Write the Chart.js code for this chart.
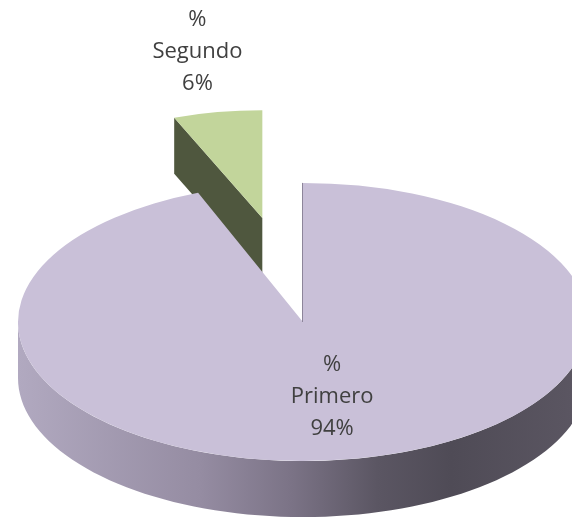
<!DOCTYPE html>
<html>
<head>
<meta charset="utf-8">
<style>
  body { margin: 0; background: #fff; }
  #wrap { width: 572px; height: 523px; }
</style>
</head>
<body>
<script src="https://cdn.jsdelivr.net/npm/chart.js"></script>
<div id="wrap"><canvas id="pie"></canvas></div>

<script>
const categories = ['Primero', 'Segundo'];
const shares = [94, 6];
const labelHead = '%';

// look of each slice
const topColors = ['#c9c0d8', '#c2d59b'];
const cutColors = ['#6e6680', '#4f573e'];
const pullOut = [0, 217];      // explode distance, in unflattened px
const shrinkX = [1, 0.84];     // pulled slice sits further back
const shrinkY = [1, 0.775];
const labelReach = [0.545, 1.215];

const squash = 0.488;          // vertical flattening of the disc
const depth = 56;              // thickness of the disc

// where a point of slice i (given relative to the pie centre) lands on screen
function mapper(arc, i, flat) {
  const mid = (arc.startAngle + arc.endAngle) / 2;
  const ox = arc.x + pullOut[i] * Math.cos(mid);
  const oy = arc.y + pullOut[i] * Math.sin(mid);
  const sx = flat ? 1 : shrinkX[i], sy = flat ? 1 : shrinkY[i];
  return function (u, v, down) {
    const y = oy + sy * v;
    return [ox + sx * u, arc.y + (y - arc.y) * squash + (down || 0)];
  };
}

function drawWall(ctx, arc, i, lo, hi) {
  const map = mapper(arc, i);
  const R = arc.outerRadius;
  const steps = 80;
  ctx.beginPath();
  for (let k = 0; k <= steps; k++) {
    const t = lo + (hi - lo) * k / steps;
    const p = map(R * Math.cos(t), R * Math.sin(t), 0);
    k === 0 ? ctx.moveTo(p[0], p[1]) : ctx.lineTo(p[0], p[1]);
  }
  for (let k = steps; k >= 0; k--) {
    const t = lo + (hi - lo) * k / steps;
    const p = map(R * Math.cos(t), R * Math.sin(t), depth);
    ctx.lineTo(p[0], p[1]);
  }
  ctx.closePath();
  const left = map(-R, 0)[0], right = map(R, 0)[0];
  const g = ctx.createLinearGradient(left, 0, right, 0);
  g.addColorStop(0, '#b1a9c0');
  g.addColorStop(0.32, '#958ca2');
  g.addColorStop(0.48, '#7b7386');
  g.addColorStop(0.63, '#5b5663');
  g.addColorStop(0.76, '#4f4b56');
  g.addColorStop(1, '#5c5763');
  ctx.fillStyle = g;
  ctx.fill();
}

function drawCut(ctx, arc, i, a) {
  const map = mapper(arc, i);
  const R = arc.outerRadius;
  const c = map(0, 0), e = map(R * Math.cos(a), R * Math.sin(a));
  ctx.beginPath();
  ctx.moveTo(c[0], c[1]);
  ctx.lineTo(e[0], e[1]);
  ctx.lineTo(e[0], e[1] + depth);
  ctx.lineTo(c[0], c[1] + depth);
  ctx.closePath();
  ctx.fillStyle = cutColors[i];
  ctx.fill();
}

const pie3d = {
  id: 'pie3d',
  beforeDatasetsDraw(chart) {
    const ctx = chart.ctx;
    const arcs = chart.getDatasetMeta(0).data;
    const apexY = arcs.map((a, i) => mapper(a, i)(0, 0)[1]);
    const order = arcs.map((a, i) => i).sort((p, q) => apexY[p] - apexY[q]);

    order.forEach(i => {
      const arc = arcs[i];
      const a0 = arc.startAngle, a1 = arc.endAngle;

      // rim, only the half that faces the viewer
      for (let k = -1; k <= 1; k++) {
        const lo = Math.max(a0, 2 * Math.PI * k);
        const hi = Math.min(a1, 2 * Math.PI * k + Math.PI);
        if (lo < hi) drawWall(ctx, arc, i, lo, hi);
      }
      // cut faces of the wedge
      if (Math.sin(a0 - Math.PI / 2) > 0.01) drawCut(ctx, arc, i, a0);
      if (Math.sin(a1 + Math.PI / 2) > 0.01) drawCut(ctx, arc, i, a1);

      // top face: the library's own arc, flattened
      const mid = (a0 + a1) / 2;
      ctx.save();
      ctx.translate(0, arc.y);
      ctx.scale(1, squash);
      ctx.translate(0, -arc.y);
      ctx.translate(arc.x + pullOut[i] * Math.cos(mid), arc.y + pullOut[i] * Math.sin(mid));
      ctx.scale(shrinkX[i], shrinkY[i]);
      ctx.translate(-arc.x, -arc.y);
      arc.draw(ctx);
      ctx.restore();

      // thin edge where a cut is seen side-on
      if (Math.abs(Math.sin(a0 - Math.PI / 2)) <= 0.01 && pullOut[i] === 0) {
        const map = mapper(arc, i);
        const c = map(0, 0), e = map(arc.outerRadius * Math.cos(a0), arc.outerRadius * Math.sin(a0));
        ctx.strokeStyle = '#8d859a';
        ctx.lineWidth = 1;
        ctx.beginPath();
        ctx.moveTo(c[0] - 0.5, c[1]);
        ctx.lineTo(e[0] - 0.5, e[1]);
        ctx.stroke();
      }
    });
    return false;
  },
  afterDraw(chart) {
    const ctx = chart.ctx;
    const arcs = chart.getDatasetMeta(0).data;
    ctx.save();
    ctx.fillStyle = '#404040';
    ctx.font = '22px "Open Sans"';
    ctx.textAlign = 'center';
    ctx.textBaseline = 'middle';
    arcs.forEach((arc, i) => {
      const mid = (arc.startAngle + arc.endAngle) / 2;
      const r = arc.outerRadius * labelReach[i];
      const p = mapper(arc, i, true)(r * Math.cos(mid), r * Math.sin(mid));
      const lines = [labelHead, categories[i], shares[i] + '%'];
      lines.forEach((t, n) => ctx.fillText(t, p[0], p[1] + (n - 1) * 32));
    });
    ctx.restore();
  }
};

const canvas = document.getElementById('pie');

const myChart = new Chart(canvas, {
  type: 'pie',
  data: {
    labels: categories,
    datasets: [{
      data: shares,
      backgroundColor: topColors,
      borderWidth: 0,
      offset: 0,
      radius: 285,
      clip: false
    }]
  },
  options: {
    responsive: true,
    maintainAspectRatio: false,
    animation: false,
    layout: {
      padding: { left: 34, right: 0, top: 121, bottom: 0 }
    },
    plugins: {
      legend: { display: false },
      tooltip: { enabled: false }
    }
  },
  plugins: [pie3d]
});
</script>
</body>
</html>
